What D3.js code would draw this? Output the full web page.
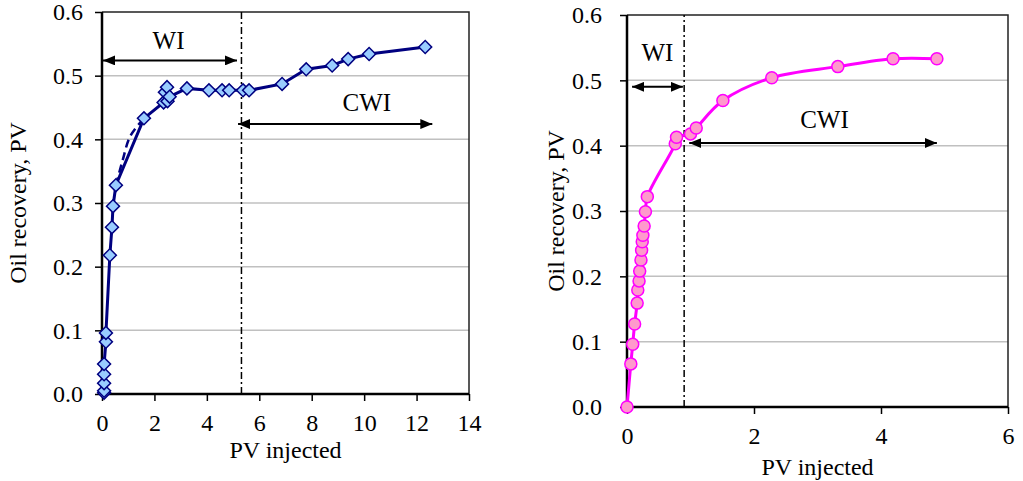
<!DOCTYPE html>
<html>
<head>
<meta charset="utf-8">
<script src="https://cdn.jsdelivr.net/npm/d3@7"></script>
<style>
  body { margin: 0; background: #fff; }
  text { font-family: "Liberation Serif", "Times New Roman", serif; fill: #000; }
</style>
</head>
<body>
<div class="canvas"></div>
<script>
// left chart: WI then CWI, diamonds
const leftX = [0.08, 0.08, 0.08, 0.08, 0.08, 0.15, 0.15, 0.3, 0.38, 0.42, 0.53, 1.6, 2.35, 2.4, 2.48, 2.5, 2.58, 3.24, 4.08, 4.58, 4.85, 5.38, 5.61, 6.87, 7.79, 8.78, 9.39, 10.19, 12.33];
const leftY = [0.002, 0.005, 0.017, 0.031, 0.047, 0.082, 0.096, 0.218, 0.262, 0.295, 0.328, 0.433, 0.458, 0.474, 0.482, 0.46, 0.467, 0.48, 0.477, 0.477, 0.477, 0.477, 0.477, 0.487, 0.51, 0.516, 0.526, 0.534, 0.545];
// dashed companion curve near the knee
const leftDashX = [0.53, 0.78, 1.08, 1.6];
const leftDashY = [0.328, 0.366, 0.405, 0.433];

// right chart: circles
const rightX = [0, 0.06, 0.09, 0.12, 0.16, 0.17, 0.19, 0.2, 0.22, 0.23, 0.24, 0.25, 0.27, 0.29, 0.32, 0.76, 0.78, 1.0, 1.09, 1.51, 2.28, 3.32, 4.19, 4.88];
const rightY = [0, 0.066, 0.096, 0.127, 0.159, 0.179, 0.193, 0.208, 0.225, 0.24, 0.253, 0.263, 0.277, 0.299, 0.322, 0.403, 0.413, 0.418, 0.427, 0.469, 0.504, 0.521, 0.533, 0.533];

const yTicks = [0, 0.1, 0.2, 0.3, 0.4, 0.5, 0.6];
const leftXTicks = [0, 2, 4, 6, 8, 10, 12, 14];
const rightXTicks = [0, 2, 4, 6];

const svg = d3.select(".canvas").append("svg")
  .attr("width", 1023)
  .attr("height", 481);

const defs = svg.append("defs");
defs.append("marker")
  .attr("id", "head")
  .attr("viewBox", "0 0 12 10")
  .attr("refX", 12).attr("refY", 5)
  .attr("markerWidth", 12).attr("markerHeight", 10)
  .attr("markerUnits", "userSpaceOnUse")
  .attr("orient", "auto-start-reverse")
  .append("path").attr("d", "M0,0L12,5L0,10Z").attr("fill", "#000");

const drawChart = (cfg) => {
  const x = d3.scaleLinear().domain(cfg.xDomain).range(cfg.xRange);
  const y = d3.scaleLinear().domain([0, 0.6]).range(cfg.yRange);
  const g = svg.append("g");

  // gridlines
  g.selectAll("line.grid").data(yTicks.slice(1, -1)).enter().append("line")
    .attr("x1", cfg.xRange[0]).attr("x2", cfg.xRange[1])
    .attr("y1", (d) => y(d)).attr("y2", (d) => y(d))
    .attr("stroke", "#c0c0c0").attr("stroke-width", 1.5);

  // frame top/right
  g.append("path")
    .attr("d", `M${cfg.xRange[0]},${cfg.yRange[1]}H${cfg.xRange[1]}V${cfg.yRange[0]}`)
    .attr("fill", "none").attr("stroke", "#222").attr("stroke-width", 1.5);

  // axes
  const yAxis = g.append("g")
    .attr("transform", `translate(${cfg.xRange[0]},0)`)
    .call(d3.axisLeft(y).tickValues(yTicks).tickFormat(d3.format(".1f")).tickSize(7).tickPadding(cfg.yPad));
  const xAxis = g.append("g")
    .attr("transform", `translate(0,${cfg.yRange[0]})`)
    .call(d3.axisBottom(x).tickValues(cfg.xTicks).tickFormat(d3.format("d")).tickSize(7).tickPadding(cfg.xPad));
  [xAxis, yAxis].forEach((a) => {
    a.select(".domain").attr("stroke", "#000").attr("stroke-width", 2.5);
    a.selectAll(".tick line").attr("stroke", "#000").attr("stroke-width", 1.5);
    a.selectAll("text").attr("font-size", 24);
  });
  xAxis.select(".domain").attr("d", `M${cfg.xRange[0]},0H${cfg.xRange[1]}`);
  yAxis.select(".domain").attr("d", `M0,${cfg.yRange[0]}V${cfg.yRange[1]}`);

  // axis titles
  g.append("text")
    .attr("transform", `translate(${cfg.yTitleX},${(cfg.yRange[0] + cfg.yRange[1]) / 2}) rotate(-90)`)
    .attr("text-anchor", "middle").attr("dy", "0.35em")
    .attr("font-size", 24).text("Oil recovery, PV");
  g.append("text")
    .attr("x", (cfg.xRange[0] + cfg.xRange[1]) / 2).attr("y", cfg.xTitleY)
    .attr("text-anchor", "middle").attr("dy", "0.35em")
    .attr("font-size", 24).text("PV injected");

  // switch line WI -> CWI
  g.append("line")
    .attr("x1", x(cfg.switchAt)).attr("x2", x(cfg.switchAt))
    .attr("y1", y(0)).attr("y2", y(0.6))
    .attr("stroke", "#000").attr("stroke-width", 1.5)
    .attr("stroke-dasharray", "7,3,2,3");

  // arrows and labels
  cfg.arrows.forEach((a) => {
    g.append("line")
      .attr("x1", x(a.from)).attr("x2", x(a.to))
      .attr("y1", y(a.at)).attr("y2", y(a.at))
      .attr("stroke", "#000").attr("stroke-width", 2)
      .attr("marker-start", "url(#head)").attr("marker-end", "url(#head)");
    g.append("text")
      .attr("x", x(a.labelX)).attr("y", y(a.labelY))
      .attr("text-anchor", "middle").attr("dy", "0.35em")
      .attr("font-size", 25).text(a.label);
  });

  return { g, x, y };
};

// left chart
const L = drawChart({
  xDomain: [0, 14], xRange: [102, 469], yRange: [394, 12],
  xTicks: leftXTicks, yPad: 12, xPad: 13,
  yTitleX: 18, xTitleY: 450, switchAt: 5.32,
  arrows: [
    { from: 0.04, to: 5.15, at: 0.524, label: "WI", labelX: 2.54, labelY: 0.555 },
    { from: 5.19, to: 12.6, at: 0.424, label: "CWI", labelX: 10.1, labelY: 0.458 }
  ]
});

const leftData = leftX.map((d, i) => ({ x: d, y: leftY[i] }));
const leftDash = leftDashX.map((d, i) => ({ x: d, y: leftDashY[i] }));

L.g.append("path")
  .datum(leftDash)
  .attr("fill", "none").attr("stroke", "#000080").attr("stroke-width", 2.5)
  .attr("stroke-dasharray", "8,5")
  .attr("d", d3.line().x((d) => L.x(d.x)).y((d) => L.y(d.y)).curve(d3.curveCatmullRom));

L.g.append("path")
  .datum(leftData)
  .attr("fill", "none").attr("stroke", "#000080").attr("stroke-width", 3)
  .attr("d", d3.line().x((d) => L.x(d.x)).y((d) => L.y(d.y)));

L.g.selectAll("path.pt").data(leftData).enter().append("path")
  .attr("class", "pt")
  .attr("d", d3.symbol(d3.symbolSquare, 84))
  .attr("transform", (d) => `translate(${L.x(d.x)},${L.y(d.y)}) rotate(45)`)
  .attr("fill", "#99ccff").attr("stroke", "#000080").attr("stroke-width", 1.5);

// right chart
const R = drawChart({
  xDomain: [0, 6], xRange: [627, 1008], yRange: [407, 15],
  xTicks: rightXTicks, yPad: 18, xPad: 13,
  yTitleX: 556, xTitleY: 467, switchAt: 0.9,
  arrows: [
    { from: 0.08, to: 0.88, at: 0.49, label: "WI", labelX: 0.48, labelY: 0.543 },
    { from: 0.98, to: 4.88, at: 0.404, label: "CWI", labelX: 3.11, labelY: 0.441 }
  ]
});

const rightData = rightX.map((d, i) => ({ x: d, y: rightY[i] }));

R.g.append("path")
  .datum(rightData)
  .attr("fill", "none").attr("stroke", "#ff00ff").attr("stroke-width", 3)
  .attr("d", d3.line().x((d) => R.x(d.x)).y((d) => R.y(d.y)).curve(d3.curveCatmullRom.alpha(0.5)));

R.g.selectAll("circle").data(rightData).enter().append("circle")
  .attr("cx", (d) => R.x(d.x)).attr("cy", (d) => R.y(d.y))
  .attr("r", 6)
  .attr("fill", "#ff99cc").attr("stroke", "#ff00ff").attr("stroke-width", 1.5);
</script>
</body>
</html>
